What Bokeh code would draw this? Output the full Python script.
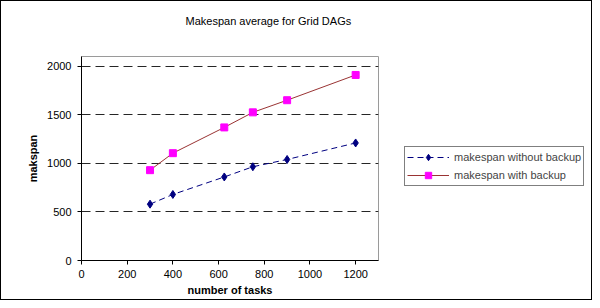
from bokeh.plotting import figure
from bokeh.layouts import row
from bokeh.models import Legend, LegendItem, SingleIntervalTicker, Range1d, Label
from bokeh.embed import file_html
from bokeh.resources import INLINE

tasks = [300, 400, 625, 750, 900, 1200]
without_backup = [580, 680, 860, 965, 1040, 1210]
with_backup = [930, 1105, 1370, 1525, 1650, 1910]
title_text = "Makespan average for Grid DAGs"
x_label = "number of tasks"
y_label = "makspan"
label_without = "makespan without backup"
label_with = "makespan with backup"

FONT = "Liberation Sans"

p = figure(width=390, height=298, output_backend="svg", toolbar_location=None,
           x_range=Range1d(0, 1300), y_range=Range1d(0, 2100),
           min_border_left=80, min_border_right=13, min_border_top=55, min_border_bottom=39)

title = Label(x=104, y=36, x_units="screen", y_units="screen", text=title_text,
              text_font=FONT, text_font_size="11px", text_color="black",
              text_baseline="middle", text_align="left")
p.add_layout(title, "above")

p.outline_line_color = "#9a9a9a"
p.outline_line_width = 1

p.xaxis.ticker = SingleIntervalTicker(interval=200)
p.yaxis.ticker = SingleIntervalTicker(interval=500)
for ax in (p.xaxis[0], p.yaxis[0]):
    ax.axis_line_color = "black"
    ax.major_tick_line_color = "black"
    ax.major_tick_in = 0
    ax.major_tick_out = 4
    ax.minor_tick_line_color = None
    ax.major_label_text_font = FONT
    ax.major_label_text_font_size = "11px"
    ax.major_label_text_color = "black"
    ax.axis_label_text_font = FONT
    ax.axis_label_text_font_size = "11px"
    ax.axis_label_text_font_style = "bold"
    ax.axis_label_text_color = "black"
p.xaxis.axis_label = x_label
p.yaxis.axis_label = y_label
p.xaxis.major_label_standoff = 5
p.xaxis.axis_label_standoff = 3
p.yaxis.major_label_standoff = 6
p.yaxis.axis_label_standoff = 5

p.xgrid.grid_line_color = None
p.ygrid.grid_line_color = "black"
p.ygrid.grid_line_dash = "9 5"
p.ygrid.grid_line_width = 1
p.ygrid.grid_line_alpha = 0.85

STYLE1 = dict(line_color="#000080", line_width=1, line_dash="6 4")
MK1 = dict(marker="diamond", size=8, fill_color="#000080", line_color="#000080")
STYLE2 = dict(line_color="#993333", line_width=1)
MK2 = dict(marker="square", size=7, fill_color="#ff00ff", line_color="#ff00ff")

p.line(tasks, without_backup, **STYLE1)
p.scatter(tasks, without_backup, **MK1)
p.line(tasks, with_backup, **STYLE2)
p.scatter(tasks, with_backup, **MK2)

# legend panel: same series drawn outside its visible range so only the legend shows
q = figure(width=200, height=298, output_backend="svg", toolbar_location=None,
           x_range=Range1d(-2, -1), y_range=Range1d(-2, -1),
           min_border_left=0, min_border_right=0, min_border_top=0, min_border_bottom=0)
q.axis.visible = False
q.grid.visible = False
q.outline_line_color = None
l1 = q.line(tasks, without_backup, **STYLE1)
m1 = q.scatter(tasks, without_backup, **MK1)
l2 = q.line(tasks, with_backup, **STYLE2)
m2 = q.scatter(tasks, with_backup, **MK2)

legend = Legend(items=[LegendItem(label=label_without, renderers=[l1, m1]),
                       LegendItem(label=label_with, renderers=[l2, m2])],
                location=(13, 74))
legend.border_line_color = "black"
legend.border_line_width = 1
legend.background_fill_color = "white"
legend.label_text_font = FONT
legend.label_text_font_size = "11px"
legend.glyph_width = 42
legend.glyph_height = 16
legend.label_height = 16
legend.label_standoff = 5
legend.padding = 2
legend.spacing = 2
legend.margin = 0
q.add_layout(legend, "center")

layout = row(p, q, styles={"border": "1px solid black"})
open("out.html", "w").write(file_html(layout, INLINE))
